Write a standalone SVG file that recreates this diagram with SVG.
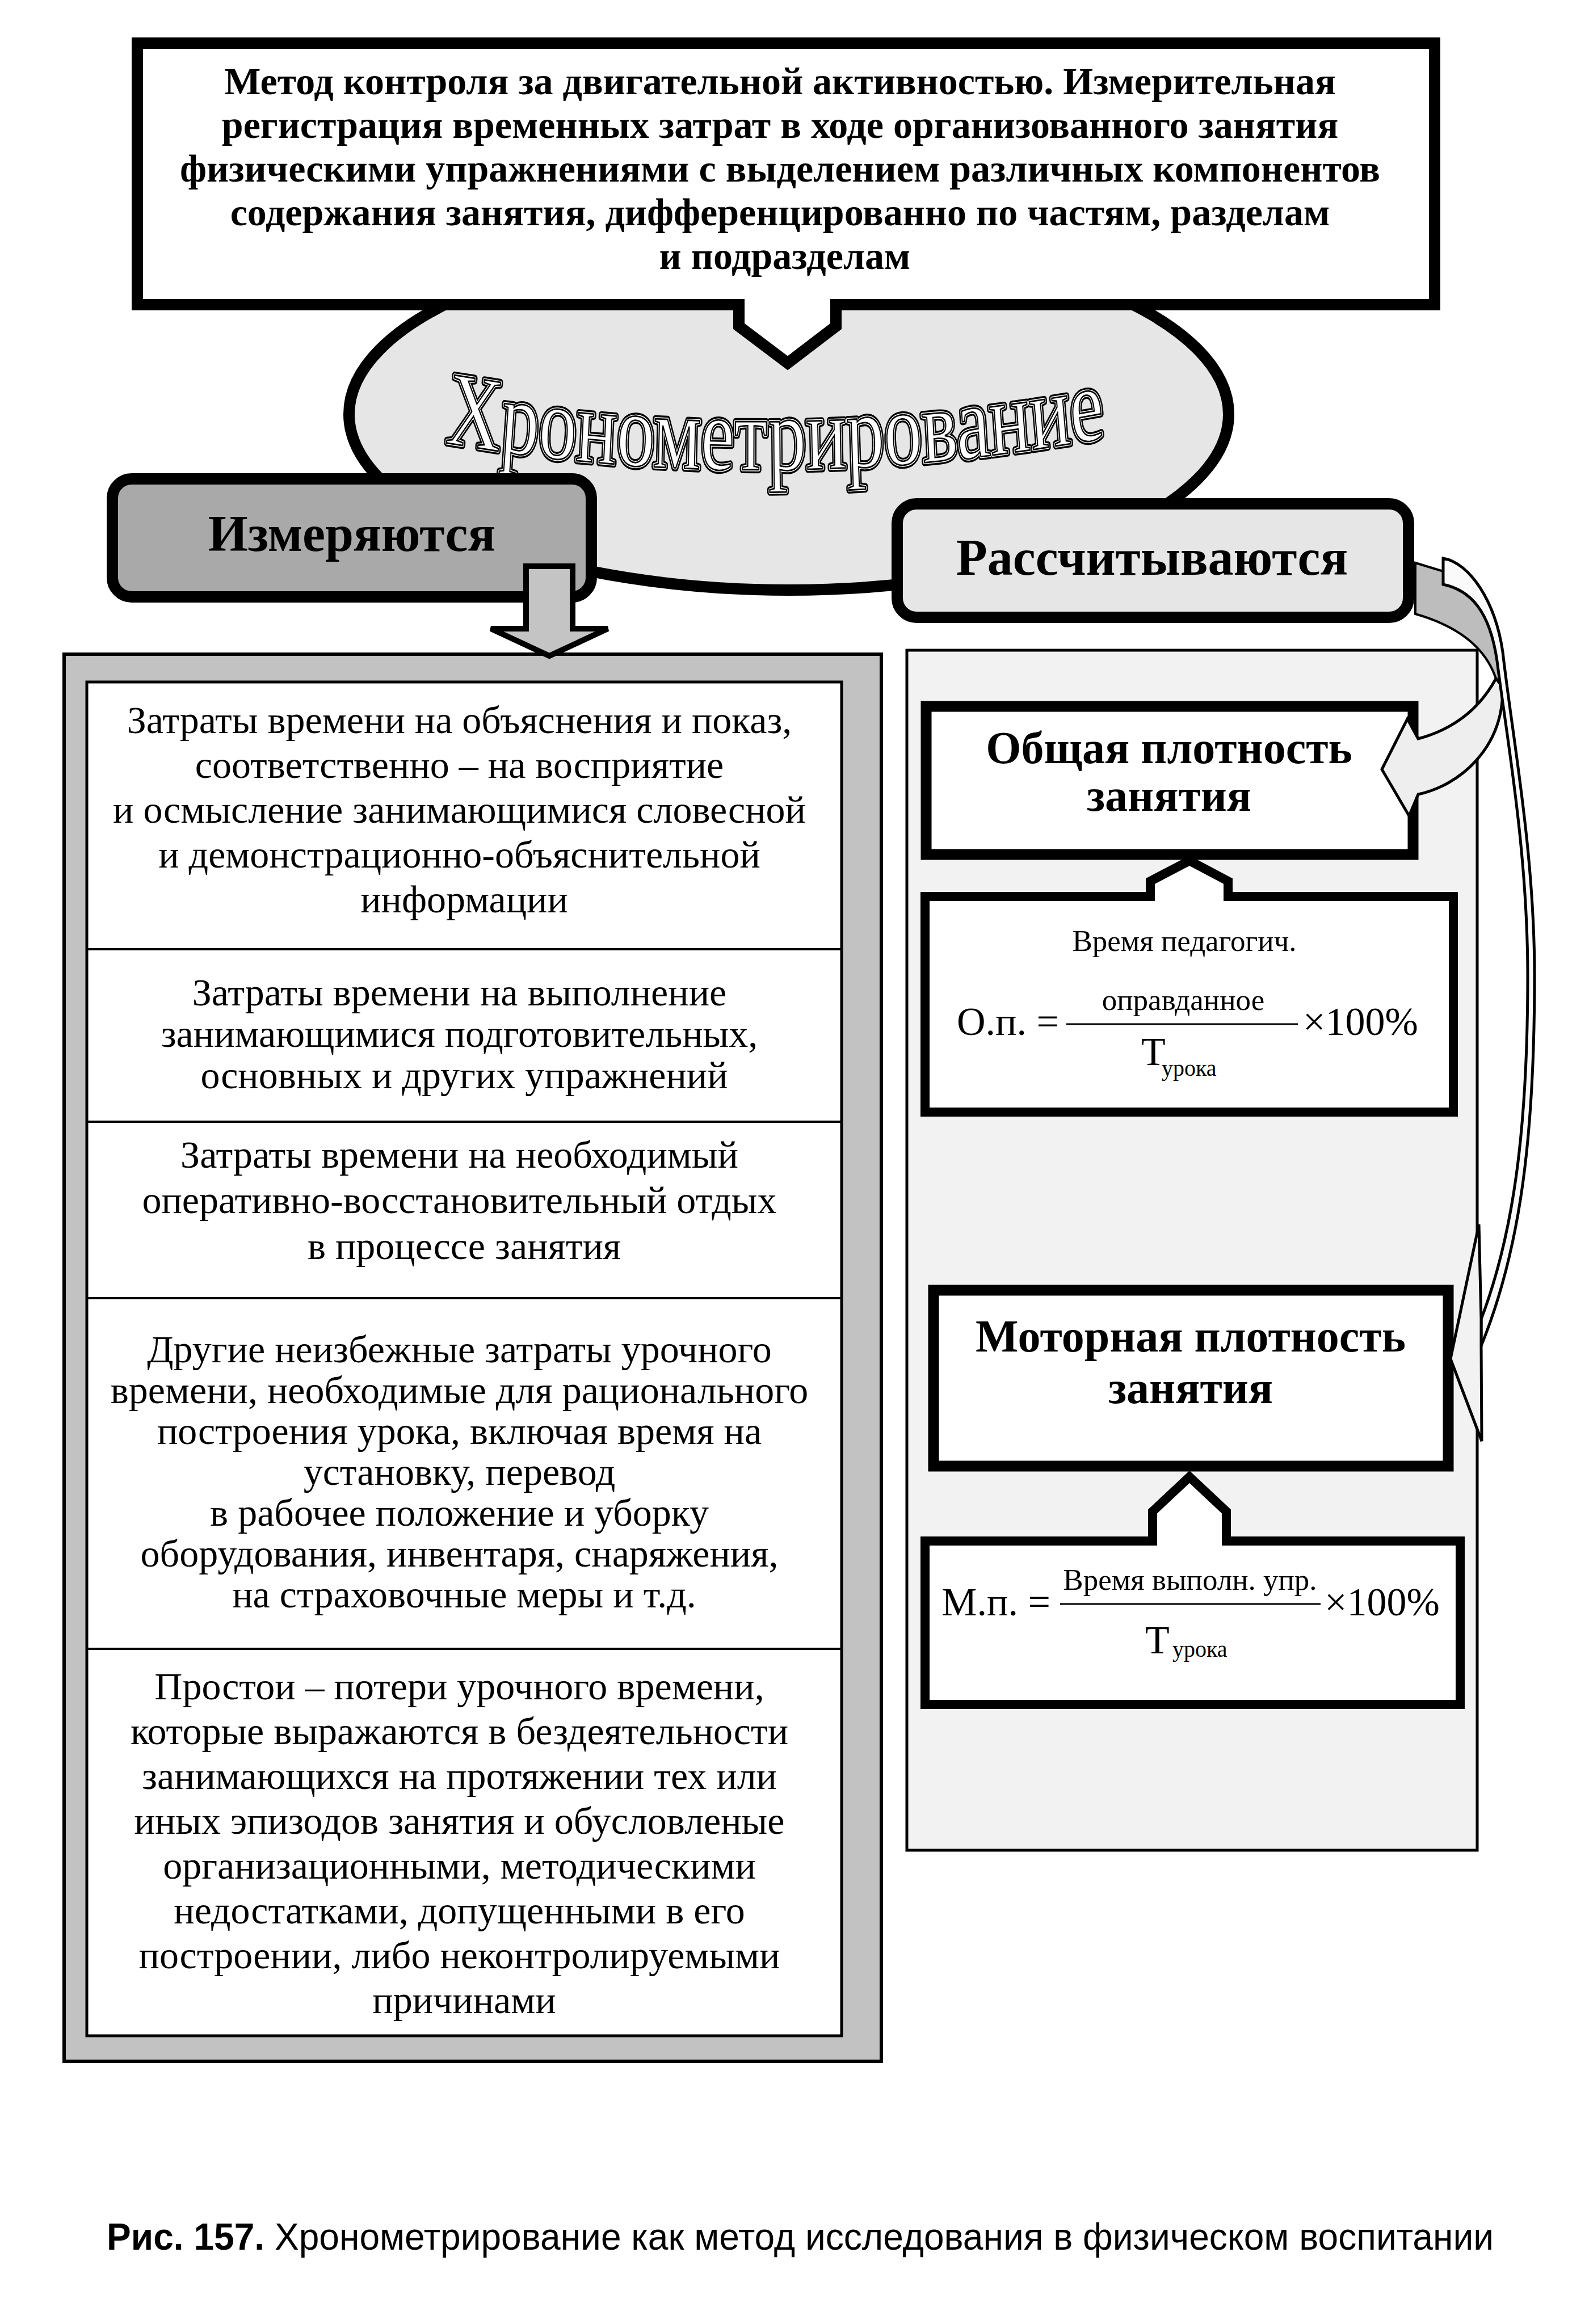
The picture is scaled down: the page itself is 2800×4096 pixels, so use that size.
<svg xmlns="http://www.w3.org/2000/svg" width="2800" height="4096" viewBox="0 0 2800 4096">
<defs>
<style>
.bold{font-family:"Liberation Serif","Times New Roman",serif;font-weight:bold;fill:#000;text-anchor:middle}
.body{font-family:"Liberation Serif","Times New Roman",serif;fill:#000;text-anchor:middle;font-size:68px}
.frm{font-family:"Liberation Serif","Times New Roman",serif;fill:#000}
.box{fill:#fff;stroke:#000;stroke-linejoin:miter}
.wa{font-family:"Liberation Serif","Times New Roman",serif;font-size:134px}
.conn{stroke:#000;stroke-linejoin:miter}
</style>
<path id="arc" d="M 784,792 Q 1364,865 1952,785"/>
</defs>
<rect x="0" y="0" width="2800" height="4096" fill="#fff"/>

<g id="node-chrono">
<ellipse cx="1390" cy="730" rx="775" ry="310" fill="#e6e6e6" stroke="#000" stroke-width="20"/>
<g transform="matrix(1 0 0 1.38 0 -313)">
<text class="wa" fill="none" stroke="#000" stroke-width="9" stroke-linejoin="round"><textPath href="#arc">Хронометрирование</textPath></text>
<text class="wa" fill="#fff" stroke="#fff" stroke-width="4" stroke-linejoin="round"><textPath href="#arc">Хронометрирование</textPath></text>
<text class="wa" fill="#fff" stroke="#000" stroke-width="2"><textPath href="#arc">Хронометрирование</textPath></text>
</g>
</g>

<g id="node-method">
<path class="box" stroke-width="20" d="M 242,76 H 2528 V 537 H 1473 V 575 L 1388,640 L 1302,575 V 537 H 242 Z"/>
<text class="bold" font-size="68">
<tspan x="1383" y="166">Метод контроля за двигательной активностью. Измерительная</tspan>
<tspan x="1383" y="243">регистрация временных затрат в ходе организованного занятия</tspan>
<tspan x="1383" y="320">физическими упражнениями с выделением различных компонентов</tspan>
<tspan x="1383" y="397">содержания занятия, дифференцированно по частям, разделам</tspan>
<tspan x="1383" y="474">и подразделам</tspan>
</text>
</g>

<g id="node-measured-list">
<rect x="113" y="1153" width="1440" height="2480" fill="#c2c2c2" stroke="#000" stroke-width="6"/>
<rect x="153" y="1202" width="1330" height="2386" fill="#fff" stroke="#000" stroke-width="5"/>
<g stroke="#000" stroke-width="4">
<line x1="153" y1="1673" x2="1483" y2="1673"/>
<line x1="153" y1="1977" x2="1483" y2="1977"/>
<line x1="153" y1="2288" x2="1483" y2="2288"/>
<line x1="153" y1="2906" x2="1483" y2="2906"/>
</g>
<text class="body">
<tspan x="818" y="1292">Затраты времени на объяснения и показ,</tspan>
<tspan x="818" y="1371">соответственно – на восприятие</tspan>
<tspan x="818" y="1450">и осмысление занимающимися словесной</tspan>
<tspan x="818" y="1529">и демонстрационно-объяснительной</tspan>
<tspan x="818" y="1608">информации</tspan>
</text>
<text class="body">
<tspan x="818" y="1772">Затраты времени на выполнение</tspan>
<tspan x="818" y="1845">занимающимися подготовительных,</tspan>
<tspan x="818" y="1918">основных и других упражнений</tspan>
</text>
<text class="body">
<tspan x="818" y="2058">Затраты времени на необходимый</tspan>
<tspan x="818" y="2138">оперативно-восстановительный отдых</tspan>
<tspan x="818" y="2219">в процессе занятия</tspan>
</text>
<text class="body">
<tspan x="818" y="2401">Другие неизбежные затраты урочного</tspan>
<tspan x="818" y="2473">времени, необходимые для рационального</tspan>
<tspan x="818" y="2545">построения урока, включая время на</tspan>
<tspan x="818" y="2617">установку, перевод</tspan>
<tspan x="818" y="2689">в рабочее положение и уборку</tspan>
<tspan x="818" y="2761">оборудования, инвентаря, снаряжения,</tspan>
<tspan x="818" y="2833">на страховочные меры и т.д.</tspan>
</text>
<text class="body">
<tspan x="818" y="2995">Простои – потери урочного времени,</tspan>
<tspan x="818" y="3074">которые выражаются в бездеятельности</tspan>
<tspan x="818" y="3153">занимающихся на протяжении тех или</tspan>
<tspan x="818" y="3232">иных эпизодов занятия и обусловленые</tspan>
<tspan x="818" y="3311">организационными, методическими</tspan>
<tspan x="818" y="3390">недостатками, допущенными в его</tspan>
<tspan x="818" y="3469">построении, либо неконтролируемыми</tspan>
<tspan x="818" y="3548">причинами</tspan>
</text>
</g>

<g id="node-calculated-panel">
<rect x="1598" y="1146" width="1005" height="2115" fill="#f2f2f2" stroke="#000" stroke-width="5"/>
</g>

<g id="node-measured">
<rect x="198" y="844" width="844" height="208" rx="34" fill="#a9a9a9" stroke="#000" stroke-width="20"/>
<text class="bold" x="620" y="971" font-size="90">Измеряются</text>
</g>

<g id="node-calculated">
<rect x="1581" y="888" width="901" height="200" rx="34" fill="#e6e6e6" stroke="#000" stroke-width="20"/>
<text class="bold" x="2030" y="1013" font-size="90">Рассчитываются</text>
</g>

<g id="node-general-density">
<rect class="box" x="1632" y="1245" width="858" height="261" stroke-width="19"/>
<text class="bold" font-size="80"><tspan x="2060" y="1345">Общая плотность</tspan><tspan x="2060" y="1429">занятия</tspan></text>
</g>

<g id="node-formula-general">
<path class="box" stroke-width="16" d="M 1630,1580 H 2027 V 1553 L 2096,1517 L 2164,1553 V 1580 H 2561 V 1960 H 1630 Z"/>
<text class="frm" x="2087" y="1676" font-size="53" text-anchor="middle">Время педагогич.</text>
<text class="frm" x="1866" y="1824" font-size="70" text-anchor="end">О.п. =</text>
<text class="frm" x="2085" y="1780" font-size="53" text-anchor="middle">оправданное</text>
<line x1="1879" y1="1805" x2="2287" y2="1805" stroke="#000" stroke-width="3"/>
<text class="frm" x="2296" y="1824" font-size="70">×100%</text>
<text class="frm" x="2011" y="1877" font-size="70">Т</text>
<text class="frm" x="2047" y="1896" font-size="40">урока</text>
</g>

<g id="node-motor-density">
<rect class="box" x="1645" y="2274" width="907" height="310" stroke-width="19"/>
<text class="bold" font-size="80"><tspan x="2098" y="2382">Моторная плотность</tspan><tspan x="2098" y="2473">занятия</tspan></text>
</g>

<g id="node-formula-motor">
<path class="box" stroke-width="16" d="M 1630,2716 H 2031 V 2664 L 2096,2603 L 2161,2664 V 2716 H 2573 V 3004 H 1630 Z"/>
<text class="frm" x="1851" y="2847" font-size="70" text-anchor="end">М.п. =</text>
<text class="frm" x="2097" y="2802" font-size="53" text-anchor="middle">Время выполн. упр.</text>
<line x1="1868" y1="2827" x2="2327" y2="2827" stroke="#000" stroke-width="3"/>
<text class="frm" x="2334" y="2847" font-size="70">×100%</text>
<text class="frm" x="2018" y="2914" font-size="70">Т</text>
<text class="frm" x="2066" y="2920" font-size="40">урока</text>
</g>

<g id="connectors">
<path class="conn" fill="#c4c4c4" stroke-width="10" d="M 927,998 H 1009 V 1108 H 1071 L 968,1156 L 865,1108 H 927 Z"/>
<path class="conn" fill="#bdbdbd" stroke-width="4" d="M 2494,992 L 2543,1007 Q 2630,1045 2648,1211 L 2636,1196 Q 2609,1115 2494,1082 Z"/>
<path class="conn" fill="#eeeeee" stroke-width="5" d="M 2636,1196 Q 2592,1277 2499,1302 L 2480,1267 L 2435,1356 L 2483,1438 L 2499,1400 C 2570,1385 2650,1320 2648,1211 Z"/>
<path class="conn" fill="#fafafa" stroke-width="5" d="M 2543,984 C 2590,992 2635,1060 2648,1149 C 2665,1300 2704,1500 2704,1720 C 2704,2000 2680,2200 2610,2372 L 2610,2325 C 2665,2180 2692,2000 2692,1720 C 2692,1500 2655,1300 2638,1165 C 2625,1075 2590,1040 2543,1030 Z"/>
<path class="conn" fill="#f2f2f2" stroke-width="5" d="M 2610,2325 L 2606,2158 L 2556,2395 L 2611,2540 L 2610,2372 Z"/>
</g>

<text x="188" y="3965" font-family="Liberation Sans, Arial, sans-serif" font-size="66" fill="#000" textLength="2444" lengthAdjust="spacingAndGlyphs"><tspan font-weight="bold">Рис. 157.</tspan> Хронометрирование как метод исследования в физическом воспитании</text>
</svg>
